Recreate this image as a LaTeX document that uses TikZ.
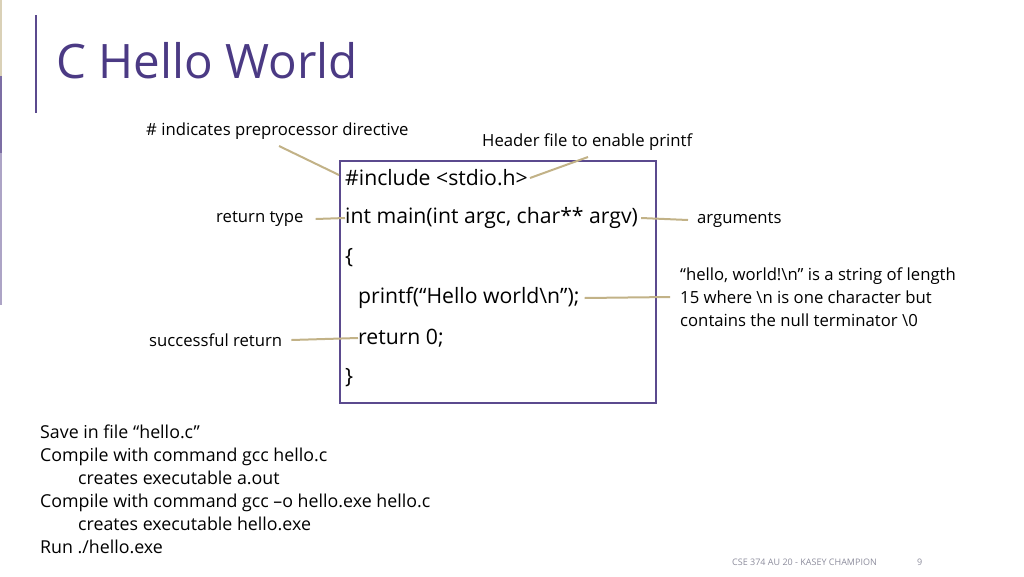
\documentclass[tikz,border=0pt]{standalone}
\usepackage{fontspec}
\setmainfont{Open Sans}
\usetikzlibrary{calc}
\definecolor{titlepurple}{HTML}{4B3A84}
\definecolor{leadtan}{HTML}{C2B287}
\definecolor{boxpurple}{HTML}{5B4A8E}
\definecolor{greytext}{HTML}{8C8C9C}
\tikzset{
  code/.style={anchor=west, inner sep=0pt, font=\fontsize{21.2}{24}\selectfont},
  note/.style={anchor=west, inner sep=0pt, font=\fontsize{16.7}{23}\selectfont, align=left},
  lead/.style={leadtan, line width=2pt}
}
\begin{document}
\begin{tikzpicture}[x=1pt,y=-1pt]
  \useasboundingbox (0,0) rectangle (1024,576);
  % left edge bars
  \fill[leadtan!60] (0,0) rectangle (1.5,76);
  \fill[boxpurple!80] (0,76) rectangle (1.5,153);
  \fill[boxpurple!50] (0,153) rectangle (1.5,305);
  \draw[boxpurple, line width=1.5pt] (36,15) -- (36,113);
  \node[anchor=west, inner sep=0pt, text=titlepurple, font=\fontsize{47.5}{52}\selectfont] (title) at (56,61) {C Hello World};
  % code box
  \draw[boxpurple, line width=1.2pt] (340,161) rectangle (656,403);
  \node[code] (inc) at (345,178) {\#include <stdio.h>};
  \node[code] (main) at (345,218) {int main(int argc, char** argv)};
  \node[code] (open) at (345,258) {\{};
  \node[code] (printf) at (358,298) {printf(“Hello world\textbackslash n”);};
  \node[code] (ret) at (358,338) {return 0;};
  \node[code] (close) at (345,378) {\}};
  % notes
  \node[note] (hash) at (146,131) {\# indicates preprocessor directive};
  \node[note] (hdr) at (482,142) {Header file to enable printf};
  \node[note] (rtype) at (216,219) {return type};
  \node[note] (args) at (697,220) {arguments};
  \node[note] (str) at (680,297) {“hello, world!\textbackslash n” is a string of length\\15 where \textbackslash n is one character but\\contains the null terminator \textbackslash 0};
  \node[note] (succ) at (149,340) {successful return};
  \coordinate (hashstart) at (279,146);
  \coordinate (hashend) at (339,175);
  \coordinate (hdrend) at (588,157);
  % leaders
  \draw[lead] (hashstart) -- (hashend);
  \draw[lead] ($(inc.east)+(2,0)$) -- (hdrend);
  \draw[lead] ($(rtype.east)+(12,0)$) -- (main.west);
  \draw[lead] ($(main.east)+(3,0)$) -- ($(args.west)+(-9,0)$);
  \draw[lead] ($(printf.east)+(5,0)$) -- ($(str.west)+(-10,0)$);
  \draw[lead] ($(succ.east)+(9,0)$) -- (ret.west);
  % bottom text
  \node[note, anchor=north west, font=\fontsize{17.8}{23}\selectfont] (steps) at (40,425) {Save in file “hello.c”\\Compile with command gcc hello.c\\\hspace{38pt}creates executable a.out\\Compile with command gcc –o hello.exe hello.c\\\hspace{38pt}creates executable hello.exe\\Run ./hello.exe};
  \node[note, text=greytext, font=\fontsize{9}{10}\selectfont] (foot) at (732,562) {CSE 374 AU 20 - KASEY CHAMPION};
  \node[note, text=greytext, font=\fontsize{9}{10}\selectfont] (page) at (917,562) {9};
\end{tikzpicture}
\end{document}
